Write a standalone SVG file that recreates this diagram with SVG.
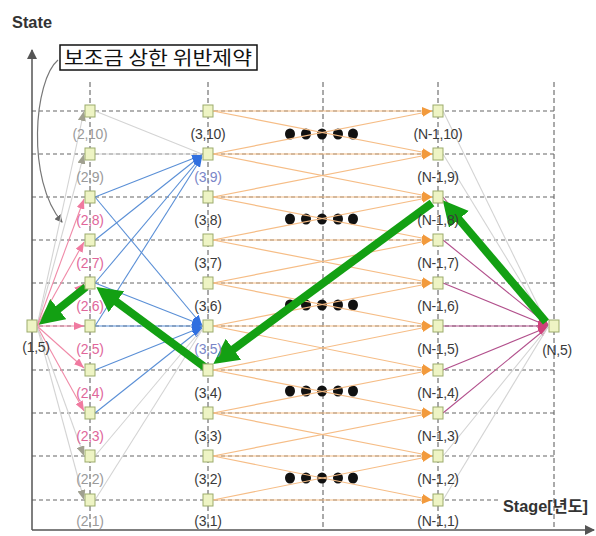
<svg xmlns="http://www.w3.org/2000/svg" width="596" height="536" viewBox="0 0 596 536">
<style>
.grid{stroke:#666;stroke-width:1.2;stroke-dasharray:4 3;fill:none}
.vgrid{stroke:#555;stroke-width:1;stroke-dasharray:5 3;fill:none}
.axis{stroke:#555;stroke-width:1.5;fill:none}
.or{stroke:#f6bd86;stroke-width:1.2;fill:none;marker-end:url(#mO)}
.bl{stroke:#5a8fd6;stroke-width:1.1;fill:none;marker-end:url(#mB)}
.pk{stroke:#f08aa8;stroke-width:1.1;fill:none;marker-end:url(#mP)}
.pu{stroke:#b2508c;stroke-width:1.1;fill:none;marker-end:url(#mU)}
.gy{stroke:#d4d4d4;stroke-width:1.1;fill:none;marker-end:url(#mG)}
.gyn{stroke:#d4d4d4;stroke-width:1.1;fill:none}
.gr{stroke:#13a013;stroke-width:8;fill:none;marker-end:url(#mGr)}
.nd rect{fill:#eef4c4;stroke:#9cab6c;stroke-width:1}
.nd text{font-family:"Liberation Sans",Arial,sans-serif;font-size:14px;letter-spacing:-0.3px;text-anchor:middle;fill:#3a3a3a}
.nd text.p{fill:#e0679b}
.nd text.g{fill:#9a9a9a}
.nd text.b{fill:#7a86c8}
.dot{fill:#111}
</style>
<defs>
<marker id="mO" markerUnits="userSpaceOnUse" markerWidth="10" markerHeight="8" refX="10" refY="4" orient="auto"><path d="M0,0 L10,4 L0,8 z" fill="#f29a3c"/></marker>
<marker id="mB" markerUnits="userSpaceOnUse" markerWidth="10" markerHeight="8" refX="10" refY="4" orient="auto"><path d="M0,0 L10,4 L0,8 z" fill="#2f6fe0"/></marker>
<marker id="mP" markerUnits="userSpaceOnUse" markerWidth="10" markerHeight="8" refX="10" refY="4" orient="auto"><path d="M0,0 L10,4 L0,8 z" fill="#f07aa0"/></marker>
<marker id="mU" markerUnits="userSpaceOnUse" markerWidth="10" markerHeight="8" refX="10" refY="4" orient="auto"><path d="M0,0 L10,4 L0,8 z" fill="#d0407a"/></marker>
<marker id="mG" markerUnits="userSpaceOnUse" markerWidth="10" markerHeight="8" refX="10" refY="4" orient="auto"><path d="M0,0 L10,4 L0,8 z" fill="#a0a090"/></marker>
<marker id="mA" markerUnits="userSpaceOnUse" markerWidth="10" markerHeight="10" refX="9" refY="5" orient="auto"><path d="M0,0 L10,5 L0,10 z" fill="#555"/></marker>
<marker id="mC" markerUnits="userSpaceOnUse" markerWidth="8" markerHeight="8" refX="7" refY="4" orient="auto"><path d="M0,0 L8,4 L0,8 z" fill="#666"/></marker>
<marker id="mGr" markerUnits="userSpaceOnUse" markerWidth="26" markerHeight="26" refX="3" refY="13" orient="auto"><path d="M0,0 L25,13 L0,26 z" fill="#13a013"/></marker>
</defs>
<rect width="596" height="536" fill="#ffffff"/>

<g id="grid">
<line class="vgrid" x1="90" y1="82" x2="90" y2="530"/>
<line class="vgrid" x1="208" y1="82" x2="208" y2="530"/>
<line class="vgrid" x1="323" y1="82" x2="323" y2="530"/>
<line class="vgrid" x1="438" y1="82" x2="438" y2="530"/>
<line class="vgrid" x1="554" y1="82" x2="554" y2="530"/>
<line class="grid" x1="32" y1="111" x2="554" y2="111"/>
<line class="grid" x1="32" y1="154" x2="554" y2="154"/>
<line class="grid" x1="32" y1="197" x2="554" y2="197"/>
<line class="grid" x1="32" y1="240" x2="554" y2="240"/>
<line class="grid" x1="32" y1="283" x2="554" y2="283"/>
<line class="grid" x1="32" y1="326" x2="554" y2="326"/>
<line class="grid" x1="32" y1="370" x2="554" y2="370"/>
<line class="grid" x1="32" y1="413" x2="554" y2="413"/>
<line class="grid" x1="32" y1="456" x2="554" y2="456"/>
<line class="grid" x1="32" y1="500" x2="500" y2="500"/>
</g>

<g id="axes">
<line class="axis" x1="32" y1="530" x2="32" y2="50" marker-end="url(#mA)"/>
<line class="axis" x1="32" y1="530" x2="594" y2="530" marker-end="url(#mA)"/>
<text x="12" y="28" font-family="'Liberation Sans',Arial,sans-serif" font-size="17" font-weight="bold" fill="#333" textLength="40" lengthAdjust="spacingAndGlyphs">State</text>
<text x="503" y="512" font-family="'Liberation Sans','Noto Sans CJK KR',sans-serif" font-size="16" font-weight="bold" fill="#333" textLength="85" lengthAdjust="spacingAndGlyphs">Stage[년도]</text>
</g>

<g id="constraint-label">
<rect x="60" y="45" width="197" height="25" fill="#fff" stroke="#111" stroke-width="1.5"/>
<text x="64" y="65" font-family="'Noto Sans CJK KR',sans-serif" font-size="19" fill="#111" textLength="188" lengthAdjust="spacingAndGlyphs">보조금 상한 위반제약</text>
</g>

<g id="ellipsis">
<g><ellipse class="dot" cx="290" cy="134" rx="5" ry="5.5"/><ellipse class="dot" cx="306" cy="134" rx="5" ry="5.5"/><ellipse class="dot" cx="322" cy="134" rx="5" ry="5.5"/><ellipse class="dot" cx="338" cy="134" rx="5" ry="5.5"/><ellipse class="dot" cx="353" cy="134" rx="5" ry="5.5"/></g>
<g><ellipse class="dot" cx="290" cy="219" rx="5" ry="5.5"/><ellipse class="dot" cx="306" cy="219" rx="5" ry="5.5"/><ellipse class="dot" cx="322" cy="219" rx="5" ry="5.5"/><ellipse class="dot" cx="338" cy="219" rx="5" ry="5.5"/><ellipse class="dot" cx="353" cy="219" rx="5" ry="5.5"/></g>
<g><ellipse class="dot" cx="290" cy="305" rx="5" ry="5.5"/><ellipse class="dot" cx="306" cy="305" rx="5" ry="5.5"/><ellipse class="dot" cx="322" cy="305" rx="5" ry="5.5"/><ellipse class="dot" cx="338" cy="305" rx="5" ry="5.5"/><ellipse class="dot" cx="353" cy="305" rx="5" ry="5.5"/></g>
<g><ellipse class="dot" cx="290" cy="391" rx="5" ry="5.5"/><ellipse class="dot" cx="306" cy="391" rx="5" ry="5.5"/><ellipse class="dot" cx="322" cy="391" rx="5" ry="5.5"/><ellipse class="dot" cx="338" cy="391" rx="5" ry="5.5"/><ellipse class="dot" cx="353" cy="391" rx="5" ry="5.5"/></g>
<g><ellipse class="dot" cx="290" cy="478" rx="5" ry="5.5"/><ellipse class="dot" cx="306" cy="478" rx="5" ry="5.5"/><ellipse class="dot" cx="322" cy="478" rx="5" ry="5.5"/><ellipse class="dot" cx="338" cy="478" rx="5" ry="5.5"/><ellipse class="dot" cx="353" cy="478" rx="5" ry="5.5"/></g>
</g>

<g id="connectors">
<path d="M58,60 C34,80 26,180 62,222" stroke="#777" stroke-width="1.2" fill="none" marker-end="url(#mC)"/>
<!-- stage 1 -> 2 -->
<line class="gy" x1="37" y1="326" x2="84" y2="111"/>
<line class="gy" x1="37" y1="326" x2="84" y2="154"/>
<line class="pk" x1="37" y1="326" x2="84" y2="199"/>
<line class="pk" x1="37" y1="326" x2="84" y2="242"/>
<line class="pk" x1="37" y1="326" x2="84" y2="284"/>
<line class="pk" x1="37" y1="326" x2="84" y2="326"/>
<line class="pk" x1="37" y1="326" x2="84" y2="368"/>
<line class="pk" x1="37" y1="326" x2="84" y2="411"/>
<line class="gy" x1="37" y1="326" x2="84" y2="456"/>
<line class="gy" x1="37" y1="326" x2="84" y2="500"/>
<!-- stage 2 -> 3 -->
<line class="gyn" x1="95" y1="111" x2="202" y2="154"/>
<line class="gyn" x1="95" y1="154" x2="202" y2="154"/>
<line class="bl" x1="95" y1="197" x2="202" y2="155"/>
<line class="bl" x1="95" y1="240" x2="202" y2="155"/>
<line class="bl" x1="95" y1="283" x2="202" y2="156"/>
<line class="bl" x1="95" y1="326" x2="202" y2="157"/>
<line class="bl" x1="95" y1="197" x2="202" y2="325"/>
<line class="bl" x1="95" y1="283" x2="202" y2="325"/>
<line class="bl" x1="95" y1="326" x2="202" y2="326"/>
<line class="bl" x1="95" y1="370" x2="202" y2="327"/>
<line class="bl" x1="95" y1="413" x2="202" y2="328"/>
<line class="gyn" x1="95" y1="456" x2="202" y2="329"/>
<line class="gyn" x1="95" y1="500" x2="202" y2="330"/>
<!-- stage 3 -> N-1 -->
<line class="or" x1="213" y1="111" x2="432" y2="111"/>
<line class="or" x1="213" y1="111" x2="432" y2="154"/>
<line class="or" x1="213" y1="154" x2="432" y2="111"/>
<line class="or" x1="213" y1="154" x2="432" y2="154"/>
<line class="or" x1="213" y1="154" x2="432" y2="197"/>
<line class="or" x1="213" y1="197" x2="432" y2="154"/>
<line class="or" x1="213" y1="197" x2="432" y2="197"/>
<line class="or" x1="213" y1="197" x2="432" y2="240"/>
<line class="or" x1="213" y1="240" x2="432" y2="197"/>
<line class="or" x1="213" y1="240" x2="432" y2="240"/>
<line class="or" x1="213" y1="240" x2="432" y2="283"/>
<line class="or" x1="213" y1="283" x2="432" y2="240"/>
<line class="or" x1="213" y1="283" x2="432" y2="283"/>
<line class="or" x1="213" y1="283" x2="432" y2="326"/>
<line class="or" x1="213" y1="326" x2="432" y2="283"/>
<line class="or" x1="213" y1="326" x2="432" y2="326"/>
<line class="or" x1="213" y1="326" x2="432" y2="370"/>
<line class="or" x1="213" y1="370" x2="432" y2="326"/>
<line class="or" x1="213" y1="370" x2="432" y2="370"/>
<line class="or" x1="213" y1="370" x2="432" y2="413"/>
<line class="or" x1="213" y1="413" x2="432" y2="370"/>
<line class="or" x1="213" y1="413" x2="432" y2="413"/>
<line class="or" x1="213" y1="413" x2="432" y2="456"/>
<line class="or" x1="213" y1="456" x2="432" y2="413"/>
<line class="or" x1="213" y1="456" x2="432" y2="456"/>
<line class="or" x1="213" y1="456" x2="432" y2="500"/>
<line class="or" x1="213" y1="500" x2="432" y2="456"/>
<line class="or" x1="213" y1="500" x2="432" y2="500"/>
<!-- N-1 -> N -->
<line class="gyn" x1="443" y1="111" x2="548" y2="326"/>
<line class="gyn" x1="443" y1="154" x2="548" y2="326"/>
<line class="pu" x1="443" y1="197" x2="548" y2="325"/>
<line class="pu" x1="443" y1="240" x2="548" y2="325"/>
<line class="pu" x1="443" y1="283" x2="548" y2="326"/>
<line class="pu" x1="443" y1="326" x2="548" y2="326"/>
<line class="pu" x1="443" y1="370" x2="548" y2="327"/>
<line class="pu" x1="443" y1="413" x2="548" y2="327"/>
<line class="gyn" x1="443" y1="456" x2="548" y2="327"/>
<line class="gyn" x1="443" y1="500" x2="548" y2="327"/>
</g>

<g id="optimal-path">
<line class="gr" x1="546" y1="322" x2="457" y2="217"/>
<line class="gr" x1="432" y1="203" x2="231" y2="351"/>
<line class="gr" x1="206" y1="368" x2="114" y2="300"/>
<line class="gr" x1="86" y1="287" x2="56" y2="311"/>
</g>

<g id="n-1-5" class="nd"><rect x="27" y="320" width="10" height="12"/><text x="36" y="352">(1,5)</text></g>

<g id="n-2-10" class="nd"><rect x="85" y="105" width="10" height="12"/><text class="g" x="90" y="139">(2,10)</text></g>
<g id="n-2-9" class="nd"><rect x="85" y="148" width="10" height="12"/><text class="g" x="90" y="182">(2,9)</text></g>
<g id="n-2-8" class="nd"><rect x="85" y="191" width="10" height="12"/><text class="p" x="90" y="225">(2,8)</text></g>
<g id="n-2-7" class="nd"><rect x="85" y="234" width="10" height="12"/><text class="p" x="90" y="268">(2,7)</text></g>
<g id="n-2-6" class="nd"><rect x="85" y="277" width="10" height="12"/><text class="p" x="90" y="311">(2,6)</text></g>
<g id="n-2-5" class="nd"><rect x="85" y="320" width="10" height="12"/><text class="p" x="90" y="354">(2,5)</text></g>
<g id="n-2-4" class="nd"><rect x="85" y="364" width="10" height="12"/><text class="p" x="90" y="398">(2,4)</text></g>
<g id="n-2-3" class="nd"><rect x="85" y="407" width="10" height="12"/><text class="p" x="90" y="441">(2,3)</text></g>
<g id="n-2-2" class="nd"><rect x="85" y="450" width="10" height="12"/><text class="g" x="90" y="484">(2,2)</text></g>
<g id="n-2-1" class="nd"><rect x="85" y="494" width="10" height="12"/><text class="g" x="90" y="526">(2,1)</text></g>

<g id="n-3-10" class="nd"><rect x="203" y="105" width="10" height="12"/><text x="208" y="139">(3,10)</text></g>
<g id="n-3-9" class="nd"><rect x="203" y="148" width="10" height="12"/><text class="b" x="208" y="182">(3,9)</text></g>
<g id="n-3-8" class="nd"><rect x="203" y="191" width="10" height="12"/><text x="208" y="225">(3,8)</text></g>
<g id="n-3-7" class="nd"><rect x="203" y="234" width="10" height="12"/><text x="208" y="268">(3,7)</text></g>
<g id="n-3-6" class="nd"><rect x="203" y="277" width="10" height="12"/><text x="208" y="311">(3,6)</text></g>
<g id="n-3-5" class="nd"><rect x="203" y="320" width="10" height="12"/><text class="b" x="208" y="354">(3,5)</text></g>
<g id="n-3-4" class="nd"><rect x="203" y="364" width="10" height="12"/><text x="208" y="398">(3,4)</text></g>
<g id="n-3-3" class="nd"><rect x="203" y="407" width="10" height="12"/><text x="208" y="441">(3,3)</text></g>
<g id="n-3-2" class="nd"><rect x="203" y="450" width="10" height="12"/><text x="208" y="484">(3,2)</text></g>
<g id="n-3-1" class="nd"><rect x="203" y="494" width="10" height="12"/><text x="208" y="526">(3,1)</text></g>

<g id="n-N1-10" class="nd"><rect x="433" y="105" width="10" height="12"/><text x="438" y="139">(N-1,10)</text></g>
<g id="n-N1-9" class="nd"><rect x="433" y="148" width="10" height="12"/><text x="438" y="182">(N-1,9)</text></g>
<g id="n-N1-8" class="nd"><rect x="433" y="191" width="10" height="12"/><text x="438" y="225">(N-1,8)</text></g>
<g id="n-N1-7" class="nd"><rect x="433" y="234" width="10" height="12"/><text x="438" y="268">(N-1,7)</text></g>
<g id="n-N1-6" class="nd"><rect x="433" y="277" width="10" height="12"/><text x="438" y="311">(N-1,6)</text></g>
<g id="n-N1-5" class="nd"><rect x="433" y="320" width="10" height="12"/><text x="438" y="354">(N-1,5)</text></g>
<g id="n-N1-4" class="nd"><rect x="433" y="364" width="10" height="12"/><text x="438" y="398">(N-1,4)</text></g>
<g id="n-N1-3" class="nd"><rect x="433" y="407" width="10" height="12"/><text x="438" y="441">(N-1,3)</text></g>
<g id="n-N1-2" class="nd"><rect x="433" y="450" width="10" height="12"/><text x="438" y="484">(N-1,2)</text></g>
<g id="n-N1-1" class="nd"><rect x="433" y="494" width="10" height="12"/><text x="438" y="526">(N-1,1)</text></g>

<g id="n-N-5" class="nd"><rect x="549" y="320" width="10" height="12"/><text x="557" y="355">(N,5)</text></g>
</svg>
